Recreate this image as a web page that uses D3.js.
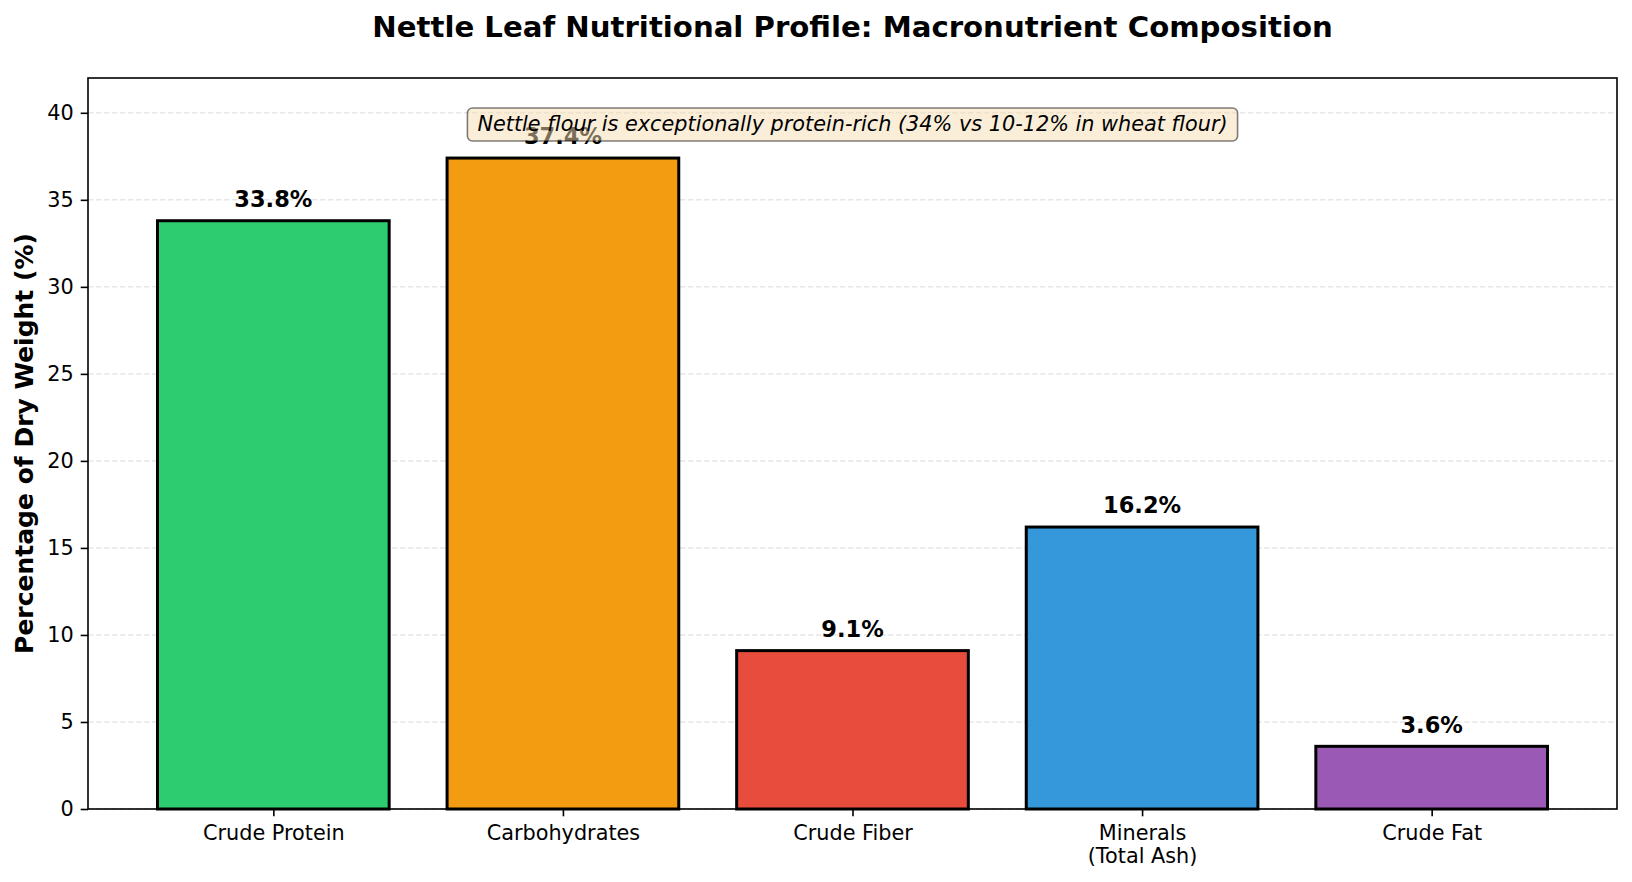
<!DOCTYPE html>
<html><head><meta charset="utf-8">
<script src="https://cdn.jsdelivr.net/npm/d3@7"></script>
<style>body{margin:0;background:#fff;} text{font-family:"DejaVu Sans",sans-serif;}</style>
</head><body><svg id="chart" width="1632" height="882"></svg>
<script>
const categories = ["Crude Protein", "Carbohydrates", "Crude Fiber", "Minerals\n(Total Ash)", "Crude Fat"];
const values = [33.8, 37.4, 9.1, 16.2, 3.6];
const colors = ["#2ecc71", "#f39c12", "#e74c3c", "#3498db", "#9b59b6"];
const yTicks = [0, 5, 10, 15, 20, 25, 30, 35, 40];
const titleText = "Nettle Leaf Nutritional Profile: Macronutrient Composition";
const yLabelText = "Percentage of Dry Weight (%)";
const noteText = "Nettle flour is exceptionally protein-rich (34% vs 10-12% in wheat flour)";

const svg = d3.select("#chart");
const L = 88, R = 1617, T = 78, B = 809;
const x = d3.scaleLinear().domain([-0.64, categories.length - 1 + 0.64]).range([L, R]);
const y = d3.scaleLinear().domain([0, 42]).range([B, T]);
const barW = x(0.8) - x(0);

// grid
svg.append("g").selectAll("line").data(yTicks).join("line")
  .attr("x1", L).attr("x2", R).attr("y1", d => y(d)).attr("y2", d => y(d))
  .attr("stroke", "#b0b0b0").attr("stroke-opacity", 0.3).attr("stroke-width", 1.5)
  .attr("stroke-dasharray", "5.5,2.5");

// bars
svg.append("g").selectAll("rect").data(values).join("rect")
  .attr("x", (d, i) => x(i) - barW / 2).attr("width", barW)
  .attr("y", d => y(d)).attr("height", d => y(0) - y(d))
  .attr("fill", (d, i) => colors[i]).attr("stroke", "#000").attr("stroke-width", 3);

// value labels
svg.append("g").selectAll("text").data(values).join("text")
  .attr("x", (d, i) => x(i)).attr("y", d => y(d + 0.5) - 5)
  .attr("text-anchor", "middle").attr("font-weight", "bold").attr("font-size", 22.5)
  .attr("fill", "#000").text(d => d.toFixed(1) + "%");

// y axis
const yAxis = d3.axisLeft(y).tickValues(yTicks).tickSize(7.3).tickPadding(7);
const gy = svg.append("g").attr("transform", `translate(${L},0)`).call(yAxis);
gy.select(".domain").remove();
gy.selectAll(".tick line").attr("stroke", "#000").attr("stroke-width", 1.6);
gy.selectAll(".tick text").attr("font-size", 20.8).attr("font-family", "DejaVu Sans").attr("fill", "#000");

// x axis
const xAxis = d3.axisBottom(x).tickValues(d3.range(categories.length)).tickSize(7.3).tickFormat(() => "");
const gx = svg.append("g").attr("transform", `translate(0,${B})`).call(xAxis);
gx.select(".domain").remove();
gx.selectAll(".tick line").attr("stroke", "#000").attr("stroke-width", 1.6);
gx.selectAll(".tick").each(function(d) {
  const lines = categories[d].split("\n");
  const t = d3.select(this).append("text").attr("text-anchor", "middle")
    .attr("font-size", 20.8).attr("font-family", "DejaVu Sans").attr("fill", "#000");
  lines.forEach((ln, k) => t.append("tspan").attr("x", 0).attr("y", 31 + k * 23).text(ln));
});

// spines
svg.append("rect").attr("x", L).attr("y", T).attr("width", R - L).attr("height", B - T)
  .attr("fill", "none").attr("stroke", "#000").attr("stroke-width", 1.6);

// annotation
const noteG = svg.append("g");
const noteT = noteG.append("text").attr("x", (L + R) / 2).attr("y", 131)
  .attr("text-anchor", "middle").attr("font-style", "italic").attr("font-size", 20.8)
  .attr("fill", "#000").text(noteText);
const bb = noteT.node().getBBox();
noteG.insert("rect", "text").attr("x", bb.x - 10).attr("width", bb.width + 20)
  .attr("y", 108).attr("height", 33).attr("rx", 5)
  .attr("fill", "#f5deb3").attr("fill-opacity", 0.5)
  .attr("stroke", "#000").attr("stroke-opacity", 0.5).attr("stroke-width", 1.6);

// title
svg.append("text").attr("x", (L + R) / 2).attr("y", 37).attr("text-anchor", "middle")
  .attr("font-weight", "bold").attr("font-size", 29.2).attr("fill", "#000").text(titleText);

// y label
svg.append("text").attr("transform", `translate(33,${(T + B) / 2}) rotate(-90)`)
  .attr("text-anchor", "middle").attr("font-weight", "bold").attr("font-size", 25)
  .attr("fill", "#000").text(yLabelText);
</script></body></html>
